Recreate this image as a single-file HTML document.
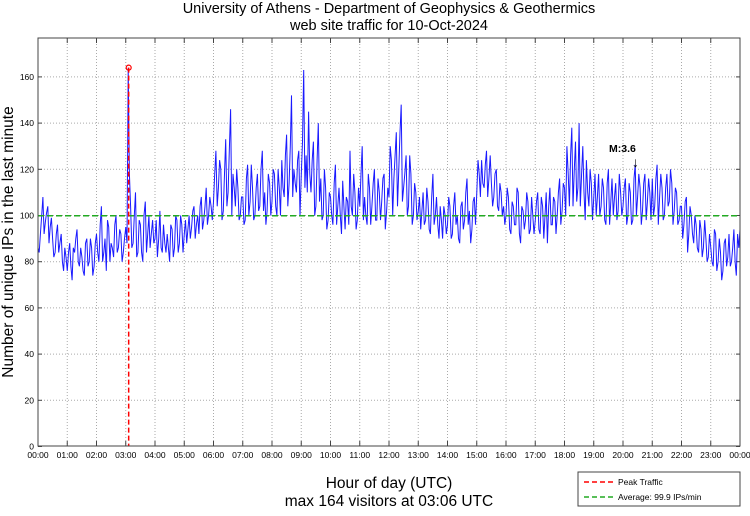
<!DOCTYPE html>
<html><head><meta charset="utf-8"><style>
body{margin:0;background:#fff;font-family:"Liberation Sans",sans-serif}
svg text{font-family:"Liberation Sans",sans-serif}
</style></head><body>
<svg id="c" width="750" height="511" xmlns="http://www.w3.org/2000/svg">
<text x="389" y="13" text-anchor="middle" font-size="14.5">University of Athens - Department of Geophysics &amp; Geothermics</text>
<text x="389" y="30" text-anchor="middle" font-size="14.5">web site traffic for 10-Oct-2024</text>
<g id="grid"></g>
<g id="series"></g>
<rect x="38" y="38" width="702" height="408" fill="none" stroke="#444" stroke-width="1"/>
<text x="13" y="242" transform="rotate(-90 13 242)" text-anchor="middle" font-size="15.5">Number of unique IPs in the last minute</text>
<text x="389" y="488" text-anchor="middle" font-size="15.5">Hour of day (UTC)</text>
<text x="389" y="506" text-anchor="middle" font-size="15.5">max 164 visitors at 03:06 UTC</text>
<text x="609" y="152" font-size="10.5" font-weight="bold">M:3.6</text>
<text x="632" y="167" font-size="14">↓</text>
<g>
<rect x="578" y="472" width="162" height="34" fill="#fff" stroke="#444"/>
<line x1="584" y1="482" x2="614" y2="482" stroke="#f00" stroke-width="1.5" stroke-dasharray="5,3"/>
<text x="618" y="485" font-size="8.5">Peak Traffic</text>
<line x1="584" y1="497" x2="614" y2="497" stroke="#2a2" stroke-width="1.5" stroke-dasharray="5,3"/>
<text x="618" y="500" font-size="8.5">Average: 99.9 IPs/min</text>
</g>
</svg>
<script>
const hourLabels=["00:00","01:00","02:00","03:00","04:00","05:00","06:00","07:00","08:00","09:00","10:00","11:00","12:00","13:00","14:00","15:00","16:00","17:00","18:00","19:00","20:00","21:00","22:00","23:00","00:00"];
const yTicks=[0,20,40,60,80,100,120,140,160];
const stepMinutes=5;
// samples at 0,5,10,... minutes
const traffic=[
86,92,108,97,104,95,90,84,96,88,80,86,
76,88,72,84,94,78,82,74,90,80,86,78,
92,80,104,84,76,95,88,82,100,86,92,84,
95,164,104,88,110,84,96,80,106,92,86,98,
90,82,102,84,88,92,80,94,86,98,88,96,
92,88,100,95,104,96,92,108,98,112,100,104,
106,128,112,120,102,133,110,146,118,104,112,100,
108,98,122,106,112,100,118,104,128,110,102,114,
106,118,100,112,124,108,135,114,152,120,110,128,
118,163,126,145,110,132,104,140,116,100,112,98,
108,96,122,104,100,115,94,106,128,100,110,98,
104,130,108,96,112,104,120,98,110,106,118,102,
108,124,116,136,120,148,112,126,104,118,100,110,
102,94,110,98,106,92,118,100,96,104,90,100,
96,104,92,110,100,88,106,98,116,102,94,108,
110,118,124,112,128,116,114,108,120,102,110,104,
100,108,92,104,96,110,88,102,98,106,94,100,
98,110,92,104,100,88,112,96,106,100,116,102,
112,130,104,138,120,106,140,118,110,124,104,114,
108,100,118,104,112,96,120,106,100,114,102,110,
104,116,100,110,98,122,108,112,102,118,106,110,
116,104,122,108,112,100,118,106,114,102,110,98,
104,96,108,92,100,88,96,84,94,86,90,82,
86,78,92,80,84,76,90,82,78,86,80,92,
94];
// samples at 2.5,7.5,12.5,... minutes
const trafficMid=[
84,100,92,101,88,99,82,92,84,92,76,82,
84,78,86,90,80,86,76,88,78,90,74,88,
84,96,80,90,98,80,86,96,84,94,80,90,
88,118,86,100,82,98,84,100,84,100,92,88,
98,90,86,96,84,86,96,82,100,84,100,84,
98,94,90,102,90,100,104,94,104,96,108,98,
118,104,124,98,118,104,128,100,112,120,98,108,
96,116,100,122,98,112,102,120,102,96,118,100,
120,104,120,100,112,126,104,130,108,114,124,100,
132,112,110,118,124,100,124,106,98,120,94,110,
100,114,96,112,92,104,108,96,104,118,94,112,
118,98,100,118,96,114,98,116,98,116,94,112,
130,100,126,104,136,106,118,100,126,96,114,98,
108,102,96,112,94,108,96,108,90,98,104,92,
108,90,104,96,90,104,94,110,96,88,106,96,
124,108,114,122,108,126,104,118,104,114,100,96,
112,94,106,96,112,92,104,94,110,92,108,92,
106,94,108,90,110,104,96,108,92,110,96,114,
100,118,126,104,132,112,104,130,98,110,120,98,
118,108,100,116,98,114,96,116,108,98,118,100,
112,96,114,96,116,100,118,96,114,98,116,98,
100,116,96,118,98,112,104,120,96,112,96,104,
90,106,84,104,92,100,86,98,82,98,80,92,
80,94,76,90,72,88,78,92,80,94,74,86];
const peakValue=[164];
const peakMinute=[186];
const averageValue=[99.9];

const NS="http://www.w3.org/2000/svg";
const X0=38,X1=740,Y0=446.5,PPU=2.31;
const xScale=m=>X0+(X1-X0)*m/1440;
const yScale=v=>Y0-v*PPU;
function mk(t,a,p){const e=document.createElementNS(NS,t);for(const k in a)e.setAttribute(k,a[k]);p.appendChild(e);return e;}
const grid=document.getElementById('grid'),ser=document.getElementById('series');
yTicks.forEach(v=>{const y=yScale(v);
 if(v>0){const g=mk('line',{x1:X0,x2:X1,y1:y,y2:y,stroke:'#aaa','stroke-dasharray':'1,2'},grid);
 
 }
 mk('line',{x1:X0,x2:X0+4,y1:y,y2:y,stroke:'#444'},grid);
 mk('line',{x1:X1-4,x2:X1,y1:y,y2:y,stroke:'#444'},grid);
 const t=mk('text',{x:X0-4,y:y+3,'text-anchor':'end','font-size':'8.5'},grid);t.textContent=v;
 
 
});
hourLabels.forEach((l,i)=>{const x=xScale(i*60);
 if(i>0&&i<24){const g=mk('line',{x1:x,x2:x,y1:38,y2:446,stroke:'#aaa','stroke-dasharray':'1,2'},grid);
 
 }
 mk('line',{x1:x,x2:x,y1:446,y2:441,stroke:'#444'},grid);
 mk('line',{x1:x,x2:x,y1:38,y2:43,stroke:'#444'},grid);
 const t=mk('text',{x:x,y:458,'text-anchor':'middle','font-size':'8.5'},grid);t.textContent=l;
 
 
});
const merged=[];
traffic.forEach((v,i)=>{merged.push([i*stepMinutes,v]);if(i<trafficMid.length)merged.push([i*stepMinutes+stepMinutes/2,trafficMid[i]]);});
const pts=merged.map(p=>xScale(p[0]).toFixed(1)+','+yScale(p[1]).toFixed(1)).join(' ');
const pl=mk('polyline',{points:pts,fill:'none',stroke:'#1a1aff','stroke-width':'1'},ser);


const av=mk('line',{x1:X0,x2:X1,y1:yScale(averageValue[0]),y2:yScale(averageValue[0]),stroke:'#2a2','stroke-width':'1.5','stroke-dasharray':'6,3'},ser);


const px=xScale(peakMinute[0]);
const pk=mk('line',{x1:px,x2:px,y1:yScale(peakValue[0]),y2:446,stroke:'#f00','stroke-width':'1.5','stroke-dasharray':'5,3'},ser);


const pm=mk('circle',{cx:px,cy:yScale(peakValue[0]),r:2.5,fill:'none',stroke:'#f00','stroke-width':'1.2'},ser);


</script>
</body></html>
